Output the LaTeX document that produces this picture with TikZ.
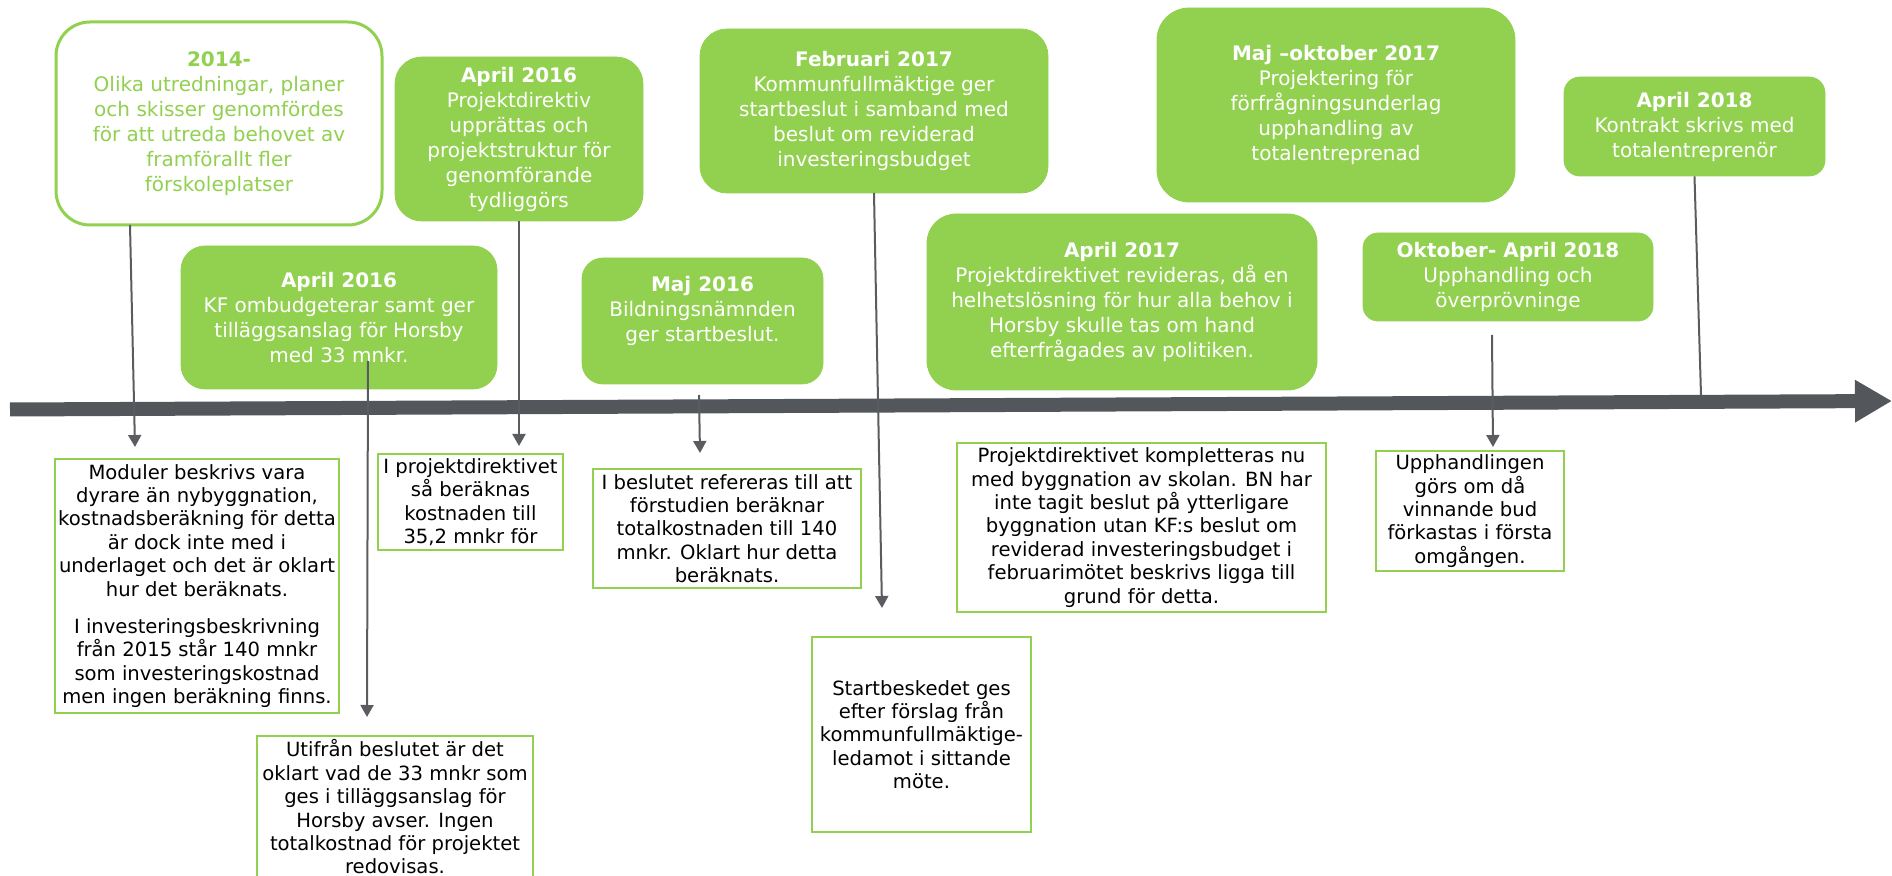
\documentclass[tikz,border=0pt]{standalone}
\usepackage{fontspec}
\setmainfont{DejaVu Sans}
\usetikzlibrary{arrows.meta}
\definecolor{grn}{HTML}{92D050}
\definecolor{axis}{HTML}{53565A}
\definecolor{conn}{HTML}{5A5C60}

\begin{document}
\begin{tikzpicture}[
x=0.5pt, y=-0.5pt,
>={Triangle[length=6pt,width=6.5pt]}
]

\tikzstyle{g} = [fill=grn, draw=grn, text=white, align=center, inner sep=0pt, font=\fontsize{10}{12.5}\selectfont]
\tikzstyle{o} = [fill=white, draw=grn, line width=1.5pt, text=grn, align=center, inner sep=0pt, font=\fontsize{10}{12.5}\selectfont]
\tikzstyle{w} = [fill=white, draw=grn, line width=1.2pt, text=black, align=center, inner sep=0pt, font=\fontsize{9.8}{11.7}\selectfont]
\tikzstyle{l} = [draw=conn, line width=1pt]

\useasboundingbox (0,0) rectangle (1892,876);
\clip (0,0) rectangle (1892,876);

\coordinate (t0) at (10,409.5);
\coordinate (t1) at (1892,401);
\draw[axis, line width=7pt, -{Triangle[length=18.5pt,width=20pt]}] (t0) -- (t1);

\node[o, minimum width=163pt, minimum height=101.5pt, rounded corners=17pt] (y2014) at (219,123.5)
{\textbf{2014-}\\Olika utredningar, planer\\och skisser genomfördes\\för att utreda behovet av\\framförallt fler\\förskoleplatser};
\node[g, minimum width=158pt, minimum height=71.5pt, rounded corners=12pt] (apr16kf) at (339,317.5)
{\textbf{April 2016}\\KF ombudgeterar samt ger\\tilläggsanslag för Horsby\\med 33 mnkr.};
\node[g, minimum width=124pt, minimum height=82pt, rounded corners=13.5pt] (apr16pd) at (519,139)
{\textbf{April 2016}\\Projektdirektiv\\upprättas och\\projektstruktur för\\genomförande\\tydliggörs};
\node[g, minimum width=120.5pt, minimum height=63pt, rounded corners=10.5pt] (maj16) at (702.5,321)
{\textbf{Maj 2016}\\Bildningsnämnden\\ger startbeslut.\\\mbox{}};
\node[g, minimum width=174pt, minimum height=82pt, rounded corners=13.5pt] (feb17) at (874,111)
{\textbf{Februari 2017}\\Kommunfullmäktige ger\\startbeslut i samband med\\beslut om reviderad\\investeringsbudget};
\node[g, minimum width=195pt, minimum height=88pt, rounded corners=14.5pt] (apr17) at (1122,302)
{\textbf{April 2017}\\Projektdirektivet revideras, då en\\helhetslösning för hur alla behov i\\Horsby skulle tas om hand\\efterfrågades av politiken.};
\node[g, minimum width=179pt, minimum height=97pt, rounded corners=16pt] (majokt17) at (1336,105)
{\textbf{Maj –oktober 2017}\\Projektering för\\förfrågningsunderlag\\upphandling av\\totalentreprenad};
\node[g, minimum width=145pt, minimum height=44pt, rounded corners=7.5pt] (oktapr18) at (1508,277)
{\textbf{Oktober- April 2018}\\Upphandling och\\överprövninge};
\node[g, minimum width=130.5pt, minimum height=49.5pt, rounded corners=8pt] (apr18) at (1694.5,126.5)
{\textbf{April 2018}\\Kontrakt skrivs med\\totalentreprenör};

\node[w, minimum width=142pt, minimum height=127pt] (moduler) at (197,586)
{Moduler beskrivs vara\\dyrare än nybyggnation,\\kostnadsberäkning för detta\\är dock inte med i\\underlaget och det är oklart\\hur det beräknats.\\[7pt]I investeringsbeskrivning\\från 2015 står 140 mnkr\\som investeringskostnad\\men ingen beräkning finns.};
\node[w, minimum width=92.5pt, minimum height=48pt] (direktiv) at (470.5,502)
{I projektdirektivet\\så beräknas\\kostnaden till\\35,2 mnkr för};
\node[w, minimum width=134pt, minimum height=59.5pt] (beslutet) at (727,528.5)
{I beslutet refereras till att\\förstudien beräknar\\totalkostnaden till 140\\mnkr. Oklart hur detta\\beräknats.};
\node[w, minimum width=138pt, minimum height=71pt] (utifran) at (395,807)
{Utifrån beslutet är det\\oklart vad de 33 mnkr som\\ges i tilläggsanslag för\\Horsby avser. Ingen\\totalkostnad för projektet\\redovisas.};
\node[w, minimum width=109.5pt, minimum height=97.5pt] (startbesked) at (921.5,734.5)
{Startbeskedet ges\\efter förslag från\\kommunfullmäktige-\\ledamot i sittande\\möte.};
\node[w, minimum width=184.5pt, minimum height=84.5pt] (komplettering) at (1141.5,527.5)
{Projektdirektivet kompletteras nu\\med byggnation av skolan. BN har\\inte tagit beslut på ytterligare\\byggnation utan KF:s beslut om\\reviderad investeringsbudget i\\februarimötet beskrivs ligga till\\grund för detta.};
\node[w, minimum width=94pt, minimum height=60pt] (upphandling) at (1470,511)
{Upphandlingen\\görs om då\\vinnande bud\\förkastas i första\\omgången.};

\coordinate (s1) at (130,225);
\coordinate (e1) at (135,447);
\coordinate (s2) at (368,361);
\coordinate (e2) at (367,717);
\coordinate (e3) at (519,446);
\coordinate (s4) at (699,395);
\coordinate (e4) at (700,453);
\coordinate (s5) at (874,193);
\coordinate (e5) at (882,608);
\coordinate (s6) at (1492,335);
\coordinate (e6) at (1493,447);
\coordinate (e7) at (1701,395);

\draw[l,->] (s1) -- (e1);
\draw[l,->] (s2) -- (e2);
\draw[l,->] (apr16pd.south) -- (e3);
\draw[l,->] (s4) -- (e4);
\draw[l,->] (s5) -- (e5);
\draw[l,->] (s6) -- (e6);
\draw[l] (apr18.south) -- (e7);
\end{tikzpicture}
\end{document}
